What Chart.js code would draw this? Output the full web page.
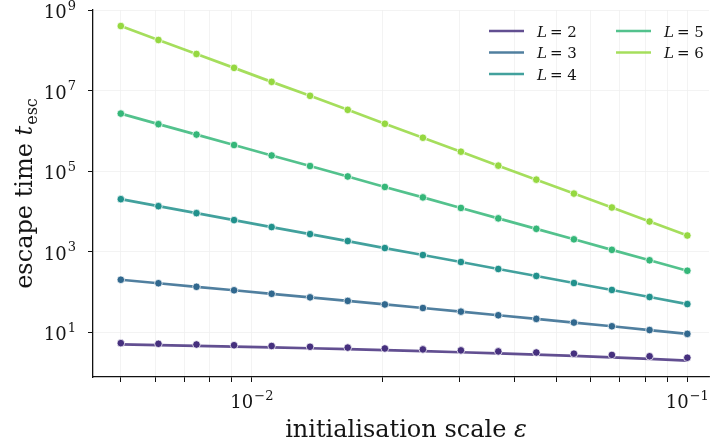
<!DOCTYPE html>
<html>
<head>
<meta charset="utf-8">
<script src="https://cdn.jsdelivr.net/npm/chart.js@4.4.1/dist/chart.umd.min.js"></script>
<style>
html,body{margin:0;padding:0;background:#fff;}
#wrap{width:714px;height:444px;position:relative;}
</style>
</head>
<body>
<div id="wrap"><canvas id="c" width="714" height="444"></canvas></div>
<script>
// ---- data ----
const eps = [0.005, 0.0061, 0.00746, 0.0091, 0.0111, 0.0136, 0.0166, 0.0202, 0.0247, 0.0302, 0.0368, 0.045, 0.0549, 0.0671, 0.0819, 0.1];
const tL2 = [5.30, 5.10, 4.90, 4.70, 4.50, 4.30, 4.10, 3.90, 3.70, 3.50, 3.30, 3.10, 2.90, 2.70, 2.50, 2.30];
const fitL2 = [4.95, 4.75, 4.55, 4.35, 4.15, 3.95, 3.75, 3.55, 3.35, 3.15, 2.95, 2.75, 2.55, 2.35, 2.15, 1.95];
const tL3 = [199, 163, 133, 109, 89, 72.7, 59.3, 48.4, 39.5, 32.1, 26.1, 21.2, 17.2, 13.9, 11.2, 9.0];
const tL4 = [20000, 13400, 8990, 6040, 4050, 2710, 1820, 1220, 819, 549, 368, 247, 165, 111, 74.1, 49.5];
const tL5 = [2.67e6, 1.46e6, 8.04e5, 4.42e5, 2.43e5, 1.33e5, 7.32e4, 4.02e4, 2.21e4, 1.21e4, 6660, 3660, 2010, 1100, 606, 333];
const tL6 = [4.0e8, 1.8e8, 8.09e7, 3.65e7, 1.64e7, 7.37e6, 3.31e6, 1.49e6, 6.71e5, 3.02e5, 1.36e5, 6.1e4, 2.75e4, 1.24e4, 5560, 2500];
const seriesNames = ['L = 2', 'L = 3', 'L = 4', 'L = 5', 'L = 6'];
const depthLabels = ['2', '3', '4', '5', '6'];
const colors = ['#46307e', '#31688e', '#21918c', '#35b779', '#95d840'];
const lineColors = ['rgba(70,48,126,0.85)', 'rgba(49,104,142,0.85)', 'rgba(33,145,140,0.85)', 'rgba(53,183,121,0.85)', 'rgba(149,216,64,0.85)'];
const yTickVals = [1e1, 1e3, 1e5, 1e7, 1e9];
const yTickExp = ['1', '3', '5', '7', '9'];
const xMajorVals = [0.01, 0.1];
const xMajorExp = ['\u22122', '\u22121'];
const xMinorVals = [0.005, 0.006, 0.007, 0.008, 0.009, 0.02, 0.03, 0.04, 0.05, 0.06, 0.07, 0.08, 0.09];

const pts = arr => eps.map((e, i) => ({x: e, y: arr[i]}));
const serData = [tL2, tL3, tL4, tL5, tL6];

const datasets = [];
// L=2 fitted line (drawn separately from its markers)
datasets.push({label: seriesNames[0] + ' line', data: pts(fitL2), borderColor: lineColors[0], borderWidth: 2.7,
  pointRadius: 0, fill: false, tension: 0, order: 10});
datasets.push({label: seriesNames[0], data: pts(tL2), showLine: false, pointRadius: 3.8,
  pointBackgroundColor: colors[0], pointBorderColor: 'rgba(255,255,255,0.75)', pointBorderWidth: 1, order: 5});
for (let k = 1; k < 5; k++) {
  datasets.push({label: seriesNames[k], data: pts(serData[k]), borderColor: lineColors[k], borderWidth: 2.7,
    pointRadius: 3.8, pointBackgroundColor: colors[k], pointBorderColor: 'rgba(255,255,255,0.75)',
    pointBorderWidth: 1, fill: false, tension: 0});
}

const SERIF = '"DejaVu Serif", serif';
const TXT = '#141414';

function drawPow(ctx, base, exp, x, y, align) {
  ctx.font = '18px ' + SERIF;
  const wb = ctx.measureText(base).width;
  ctx.font = '13px ' + SERIF;
  const we = ctx.measureText(exp).width;
  const tot = wb + we + 1;
  let sx = align === 'right' ? x - tot : x - tot / 2;
  ctx.textAlign = 'left';
  ctx.textBaseline = 'alphabetic';
  ctx.font = '18px ' + SERIF;
  ctx.fillText(base, sx, y);
  ctx.font = '13px ' + SERIF;
  ctx.fillText(exp, sx + wb + 1, y - 8.5);
}

const textPlugin = {
  id: 'textPlugin',
  afterDraw(chart) {
    const ctx = chart.ctx;
    const xs = chart.scales.x, ys = chart.scales.y;
    ctx.save();
    ctx.fillStyle = TXT;
    // y tick labels
    yTickVals.forEach((v, i) => {
      const py = ys.getPixelForValue(v);
      drawPow(ctx, '10', yTickExp[i], 76, py + 8, 'right');
    });
    // x tick labels
    xMajorVals.forEach((v, i) => {
      const px = xs.getPixelForValue(v);
      drawPow(ctx, '10', xMajorExp[i], px, 408, 'center');
    });
    // x axis title
    const cx = (chart.chartArea.left + chart.chartArea.right) / 2 + 5;
    ctx.font = '24px ' + SERIF;
    const a = 'initialisation scale ';
    const wa = ctx.measureText(a).width;
    ctx.font = 'italic 24px ' + SERIF;
    const wbx = ctx.measureText('\u03b5').width;
    let sx = cx - (wa + wbx) / 2;
    ctx.textAlign = 'left';
    ctx.font = '24px ' + SERIF;
    ctx.fillText(a, sx, 437);
    ctx.font = 'italic 24px ' + SERIF;
    ctx.fillText('\u03b5', sx + wa, 437);
    // y axis title
    const cy = (chart.chartArea.top + chart.chartArea.bottom) / 2;
    ctx.save();
    ctx.translate(32, cy);
    ctx.rotate(-Math.PI / 2);
    ctx.font = '24px ' + SERIF;
    const y1 = 'escape time ';
    const w1 = ctx.measureText(y1).width;
    ctx.font = 'italic 24px ' + SERIF;
    const w2 = ctx.measureText('t').width;
    ctx.font = '16px ' + SERIF;
    const w3 = ctx.measureText('esc').width;
    let s = -(w1 + w2 + w3 + 1) / 2;
    ctx.font = '24px ' + SERIF;
    ctx.fillText(y1, s, 0);
    ctx.font = 'italic 24px ' + SERIF;
    ctx.fillText('t', s + w1, 0);
    ctx.font = '16px ' + SERIF;
    ctx.fillText('esc', s + w1 + w2 + 1, 5);
    ctx.restore();
    // legend
    const rowsY = [31, 52.5, 74];
    const cols = [{lx: 489, tx: 537}, {lx: 616, tx: 664}];
    for (let k = 0; k < 5; k++) {
      const col = cols[k < 3 ? 0 : 1];
      const ry = rowsY[k < 3 ? k : k - 3];
      ctx.strokeStyle = lineColors[k];
      ctx.lineWidth = 2.7;
      ctx.beginPath();
      ctx.moveTo(col.lx, ry);
      ctx.lineTo(col.lx + 35, ry);
      ctx.stroke();
      ctx.fillStyle = TXT;
      ctx.font = 'italic 15px ' + SERIF;
      ctx.fillText('L', col.tx, ry + 5.5);
      const wl = ctx.measureText('L').width;
      ctx.font = '15px ' + SERIF;
      ctx.fillText('= ' + depthLabels[k], col.tx + wl + 3, ry + 5.5);
    }
    ctx.restore();
  }
};

new Chart(document.getElementById('c'), {
  type: 'line',
  data: {datasets},
  plugins: [textPlugin],
  options: {
    responsive: false,
    animation: false,
    devicePixelRatio: 1,
    layout: {padding: {top: 10, right: 0, left: 0, bottom: 0}},
    plugins: {legend: {display: false}, tooltip: {enabled: false}, title: {display: false}},
    scales: {
      x: {
        type: 'logarithmic',
        bounds: 'data',
        min: 0.004316,
        max: 0.11214,
        afterBuildTicks(scale) {
          scale.ticks = xMinorVals.concat(xMajorVals).sort((a, b) => a - b).map(v => ({value: v}));
        },
        afterFit(scale) { scale.height = 67; },
        ticks: {display: false},
        grid: {color: '#f0f0f0', lineWidth: 0.8, tickColor: '#111', tickLength: 5, tickWidth: 1, drawTicks: true},
        border: {display: true, color: '#111', width: 1.3}
      },
      y: {
        type: 'logarithmic',
        bounds: 'data',
        min: 0.7638,
        max: 1e9,
        afterBuildTicks(scale) {
          scale.ticks = yTickVals.map(v => ({value: v}));
        },
        afterFit(scale) { scale.width = 93; },
        ticks: {display: false},
        grid: {color: '#f0f0f0', lineWidth: 0.8, tickColor: '#111', tickLength: 5, tickWidth: 1, drawTicks: true},
        border: {display: true, color: '#111', width: 1.3}
      }
    }
  }
});
</script>
</body>
</html>
